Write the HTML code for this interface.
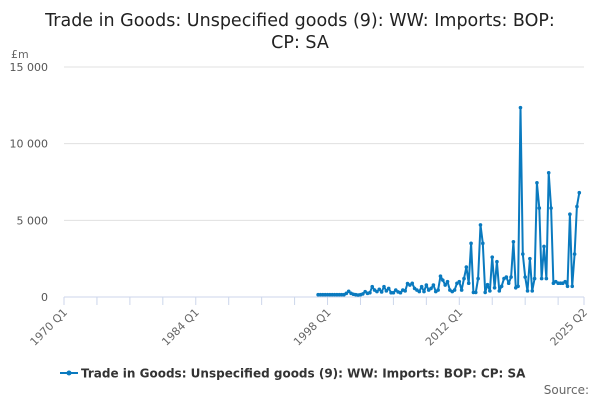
<!DOCTYPE html>
<html><head><meta charset="utf-8"><style>
body{margin:0;background:#fff;font-family:"DejaVu Sans","Liberation Sans",sans-serif;}
svg text{font-family:"DejaVu Sans","Liberation Sans",sans-serif;}
</style></head><body>
<svg id="chart" width="600" height="400" xmlns="http://www.w3.org/2000/svg">
<text x="300" y="26" text-anchor="middle" font-size="17.5" fill="#222">Trade in Goods: Unspecified goods (9): WW: Imports: BOP:</text>
<text x="300" y="48" text-anchor="middle" font-size="17.5" fill="#222">CP: SA</text>
<text x="11" y="58" font-size="11" fill="#666">£m</text>
<g id="grid"></g><g id="axes"></g><g id="series"></g>
<g>
<line x1="60" y1="373" x2="78" y2="373" stroke="#0a7abf" stroke-width="2"/>
<circle cx="69" cy="373" r="2.5" fill="#0a7abf"/>
<text x="81" y="377.5" font-size="12" font-weight="bold" fill="#333">Trade in Goods: Unspecified goods (9): WW: Imports: BOP: CP: SA</text>
</g>
<text x="589" y="394" text-anchor="end" font-size="12" fill="#666">Source:</text>
</svg>
<script>
const startYear = 1997;
const values = [150,150,150,150,150,150,150,150,150,150,150,150,240,370,240,180,150,130,150,200,
350,240,280,670,450,350,500,330,670,400,560,280,280,450,330,280,450,400,880,780,
890,560,450,350,670,350,780,450,560,780,350,450,1360,1100,780,1000,450,350,450,890,
1000,450,1200,1950,900,3500,300,300,1200,4700,3500,300,800,400,2600,600,2300,400,700,1200,1300,900,1300,3600,600,700,
12350,2800,1300,400,2500,400,1200,7450,5800,1200,3300,1200,8100,5800,900,1000,900,900,900,1000,700,5400,700,2800,5900,6800];
const yTicks = [0,5000,10000,15000];
const yTickLabels = ["0","5 000","10 000","15 000"];
const xLabels = ["1970 Q1","1984 Q1","1998 Q1","2012 Q1","2025 Q2"];
const xLabelIdx = [0,56,112,168,221];
const ns="http://www.w3.org/2000/svg";
const x0=64,x1=584,y0=297,ymax=15000,ytop=67;
const X=i=>x0+(x1-x0)*i/221;
const Y=v=>y0-(y0-ytop)*v/ymax;
function mk(t,a,p){const e=document.createElementNS(ns,t);for(const k in a)e.setAttribute(k,a[k]);p.appendChild(e);return e;}
const grid=document.getElementById('grid'),axes=document.getElementById('axes'),ser=document.getElementById('series');
yTicks.forEach((v,i)=>{
 if(v>0){const g=mk('line',{x1:x0,x2:x1,y1:Y(v),y2:Y(v),stroke:'#e0e0e0'},grid);
 
 }
 const t=mk('text',{x:48,y:Y(v)+4,'text-anchor':'end','font-size':11,fill:'#555'},axes);t.textContent=yTickLabels[i];
 
 
});
const ax=mk('line',{x1:x0,x2:x1,y1:y0,y2:y0,stroke:'#ccd6eb'},axes);


for(let i=0;i<=221;i+=14){const tk=mk('line',{x1:X(i),x2:X(i),y1:y0,y2:y0+8,stroke:'#ccd6eb'},axes);
 
 }
mk('line',{x1:X(221),x2:X(221),y1:y0,y2:y0+8,stroke:'#ccd6eb'},axes);
xLabels.forEach((l,i)=>{const x=X(xLabelIdx[i]);
 const t=mk('text',{x:x+4,y:y0+16,'text-anchor':'end','font-size':11,fill:'#666',transform:`rotate(-45 ${x+4} ${y0+16})`},axes);t.textContent=l;
 
 });
const off=(startYear-1970)*4;
const pts=values.map((v,i)=>X(off+i).toFixed(1)+','+Y(v).toFixed(1)).join(' ');
const pl=mk('polyline',{points:pts,fill:'none',stroke:'#0a7abf','stroke-width':2,'stroke-linejoin':'round'},ser);


values.forEach((v,i)=>{const c=mk('circle',{cx:X(off+i),cy:Y(v),r:1.8,fill:'#0a7abf'},ser);
 
 });
</script>
</body></html>
